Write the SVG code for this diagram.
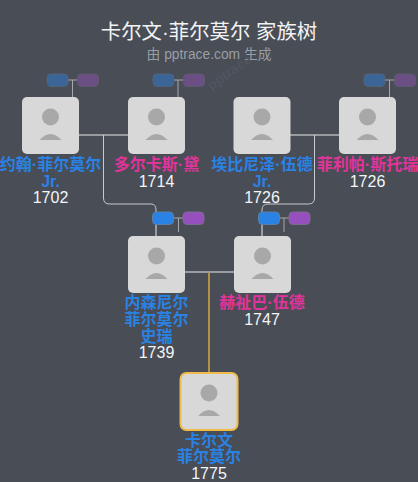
<svg xmlns="http://www.w3.org/2000/svg" width="418" height="482" viewBox="0 0 418 482">
<style>
text{font-family:"Liberation Sans","Noto Sans CJK SC",sans-serif;text-anchor:middle}
.title{font-size:20.400px;fill:#f2f3f4}
.sub{font-size:13.800px;fill:#9a9ea4}
.nm{font-size:16px;font-weight:700}
.m{fill:#2a82e4}.f{fill:#e0349a}
.yr{font-size:16px;fill:#f4f5f6}
.card{fill:#d8d8d8}
.head{fill:#a8a8a8}
.l{fill:none;stroke:#a6a8ab;stroke-width:1}
.c{fill:none;stroke:#c8cacc;stroke-width:1}
.t{fill:none;stroke:#b4b6b8;stroke-width:1.500}
.b{fill:#2a82e4;stroke:#5d7fa6;stroke-width:1}
.p{fill:#9650bd;stroke:#7d6a92;stroke-width:1}
.dim{opacity:.45}
</style>
<defs>
<g id="avatar">
<rect class="card" x="0" y="0" width="57" height="57" rx="5"/>
<circle class="head" cx="28.500" cy="20" r="8.500"/>
<path class="head" d="M17.500 43Q28.500 31 39.500 43Z"/>
</g>
</defs>
<rect width="418" height="482" fill="#484d56"/>
<text x="209" y="39" class="title">卡尔文·菲尔莫尔 家族树</text>
<text x="209" y="59" class="sub">由 pptrace.com 生成</text>
<text x="232" y="76" transform="rotate(-35 232 76)" style="font-size:14px;font-weight:700;fill:#50555e">pptrace</text>
<g id="connectors">
<path class="t" d="M79 135H128M234 135H339"/>
<path class="c" d="M103.500 135V198Q103.500 204 109.500 204H151Q156 204 156 210V212"/>
<path class="c" d="M314.500 135V198Q314.500 204 308.500 204H268Q262 204 262 210V212"/>
<path class="t" d="M156 224V236M262 224V236"/>
<path class="t" d="M185 272H234"/>
<path d="M209 273V372" fill="none" stroke="#d8a93f" stroke-width="1.500"/>
<path class="l" d="M72.500 80V97M178 80V97M389.500 80V97M178.500 218V232M284 218V232"/>
<path class="l" d="M68 80H77M174 80H183M385 80H394M174 218H183M280 218H289"/>
</g>
<g id="badges-1" class="dim">
<rect class="b" x="47" y="74" width="21" height="12.500" rx="4"/><rect class="p" x="77.500" y="74" width="21" height="12.500" rx="4"/>
</g>
<g id="badges-2" class="dim">
<rect class="b" x="153" y="74" width="21" height="12.500" rx="4"/><rect class="p" x="183.500" y="74" width="21" height="12.500" rx="4"/>
</g>
<g id="badges-4" class="dim">
<rect class="b" x="364" y="74" width="21" height="12.500" rx="4"/><rect class="p" x="394.500" y="74" width="21" height="12.500" rx="4"/>
</g>
<g id="badges-5">
<rect class="b" x="152.500" y="212" width="21" height="12.500" rx="4"/><rect class="p" x="183" y="212" width="21" height="12.500" rx="4"/>
</g>
<g id="badges-6">
<rect class="b" x="258.500" y="212" width="21" height="12.500" rx="4"/><rect class="p" x="289" y="212" width="21" height="12.500" rx="4"/>
</g>
<g id="node-john">
<use href="#avatar" x="22" y="97"/>
<text x="50.500" y="170" class="nm m">约翰·菲尔莫尔</text>
<text x="50.500" y="187" class="nm m">Jr.</text>
<text x="50.500" y="203" class="yr">1702</text>
</g>
<g id="node-dorcas">
<use href="#avatar" x="128" y="97"/>
<text x="156.500" y="170" class="nm f">多尔卡斯·黛</text>
<text x="156.500" y="187" class="yr">1714</text>
</g>
<g id="node-ebenezer">
<use href="#avatar" x="233.500" y="97"/>
<text x="262" y="170" class="nm m">埃比尼泽·伍德</text>
<text x="262" y="187" class="nm m">Jr.</text>
<text x="262" y="203" class="yr">1726</text>
</g>
<g id="node-philippa">
<use href="#avatar" x="339" y="97"/>
<text x="367.500" y="170" class="nm f">菲利帕·斯托瑞</text>
<text x="367.500" y="187" class="yr">1726</text>
</g>
<g id="node-nathaniel">
<use href="#avatar" x="128" y="236"/>
<text x="156.500" y="308" class="nm m">内森尼尔</text>
<text x="156.500" y="325" class="nm m">菲尔莫尔</text>
<text x="156.500" y="342" class="nm m">史瑞</text>
<text x="156.500" y="358" class="yr">1739</text>
</g>
<g id="node-hepzibah">
<use href="#avatar" x="234" y="236"/>
<text x="262" y="308" class="nm f">赫祉巴·伍德</text>
<text x="262" y="325" class="yr">1747</text>
</g>
<g id="node-calvin">
<use href="#avatar" x="180.500" y="373"/>
<rect x="180.500" y="373" width="57" height="57" rx="6" fill="none" stroke="#f0bb48" stroke-width="2"/>
<text x="209" y="446" class="nm m">卡尔文</text>
<text x="209" y="462" class="nm m">菲尔莫尔</text>
<text x="209" y="479" class="yr">1775</text>
</g>
</svg>
